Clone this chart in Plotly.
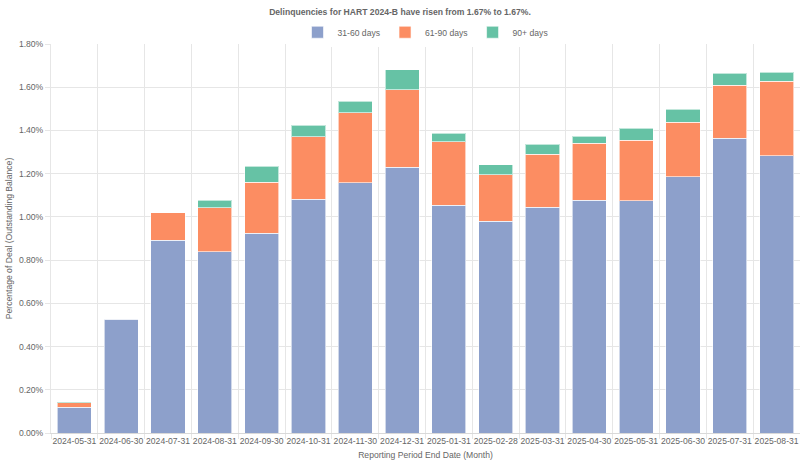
import plotly.graph_objects as go

dates = ["2024-05-31", "2024-06-30", "2024-07-31", "2024-08-31", "2024-09-30", "2024-10-31",
         "2024-11-30", "2024-12-31", "2025-01-31", "2025-02-28", "2025-03-31", "2025-04-30",
         "2025-05-31", "2025-06-30", "2025-07-31", "2025-08-31"]
d31_60 = [0.120, 0.527, 0.893, 0.838, 0.924, 1.081, 1.157, 1.229, 1.054, 0.980, 1.044, 1.077,
          1.075, 1.186, 1.364, 1.282]
d61_90 = [0.020, 0.002, 0.126, 0.205, 0.236, 0.289, 0.324, 0.360, 0.293, 0.214, 0.246, 0.264,
          0.279, 0.252, 0.246, 0.345]
d90p = [0.003, 0.000, 0.000, 0.034, 0.074, 0.055, 0.054, 0.092, 0.041, 0.048, 0.046, 0.032,
        0.057, 0.060, 0.055, 0.043]

series = [("31-60 days", d31_60, "#8da0cb"),
          ("61-90 days", d61_90, "#fc8d62"),
          ("90+ days", d90p, "#66c2a5")]

fig = go.Figure()
for name, vals, color in series:
    fig.add_trace(go.Bar(
        x=dates, y=vals, name=name,
        marker=dict(color=color, line=dict(color="rgba(255,255,255,0.6)", width=1)),
        hovertemplate="%{y:.2f}%<extra>" + name + "</extra>",
    ))

font = "Liberation Sans, Arial, sans-serif"
fs = 8.6
fig.update_layout(
    barmode="stack",
    bargap=0.27,
    width=800, height=467,
    paper_bgcolor="white", plot_bgcolor="white",
    margin=dict(l=51, r=0, t=44, b=34, autoexpand=False),
    font=dict(family=font, size=fs, color="#666"),
    title=dict(text="<b>Delinquencies for HART 2024-B have risen from 1.67% to 1.67%.</b>",
               x=0.5, xanchor="center", y=1 - 12 / 467, yanchor="middle",
               font=dict(size=fs, color="#666", family=font)),
    legend=dict(orientation="h", x=0.5, xanchor="center", y=0.993, yanchor="bottom",
                font=dict(size=fs, color="#666"), itemwidth=30, traceorder="normal"),
    showlegend=True,
)
fig.update_xaxes(
    type="category", tickson="boundaries", showgrid=True, gridcolor="#e6e6e6", gridwidth=1,
    ticks="outside", ticklen=5, tickcolor="#e6e6e6", tickangle=0, automargin=False,
    showline=True, linecolor="#d9d9d9",
    title=dict(text="Reporting Period End Date (Month)", font=dict(size=fs, color="#666"), standoff=6),
    tickfont=dict(size=fs, color="#666"),
)
fig.update_yaxes(
    range=[0, 1.8], dtick=0.2, tickformat=".2f", ticksuffix="%", automargin=False,
    showgrid=True, gridcolor="#e6e6e6", zeroline=False,
    showline=True, linecolor="#e6e6e6", ticks="outside", ticklen=5, tickcolor="#e6e6e6",
    title=dict(text="Percentage of Deal (Outstanding Balance)", font=dict(size=fs, color="#666"), standoff=4),
    tickfont=dict(size=fs, color="#666"),
)

fig.write_html("out.html", config={"displayModeBar": False},
               post_script="document.body.style.margin='0';")
